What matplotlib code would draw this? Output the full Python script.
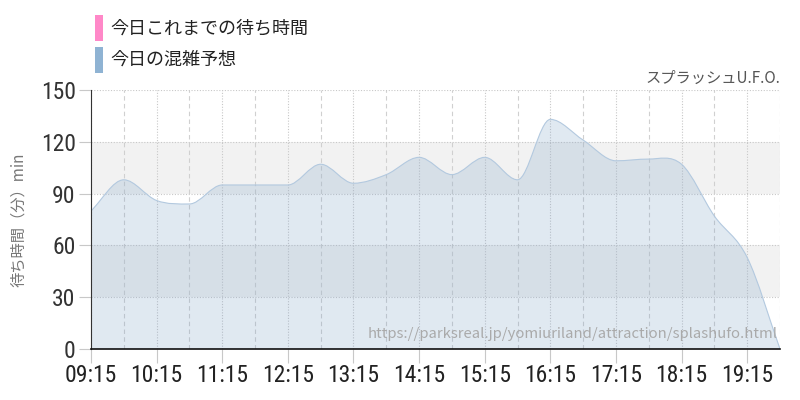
import numpy as np
import matplotlib
matplotlib.use("Agg")
import matplotlib.pyplot as plt
from matplotlib.path import Path
from matplotlib.patches import PathPatch, Rectangle
from matplotlib import font_manager

# data (30 min steps)
times = ["09:15", "09:45", "10:15", "10:45", "11:15", "11:45", "12:15", "12:45",
         "13:15", "13:45", "14:15", "14:45", "15:15", "15:45", "16:15", "16:45",
         "17:15", "17:45", "18:15", "18:45", "19:15", "19:45"]
forecast = [80, 98, 86, 84, 95, 95, 95, 107, 96, 101, 111, 101, 111, 98, 133, 121,
            109, 110, 107, 77, 53, 0]
tick_labels = ["09:15", "10:15", "11:15", "12:15", "13:15", "14:15", "15:15",
               "16:15", "17:15", "18:15", "19:15"]
legend_labels = ["今日これまでの待ち時間", "今日の混雑予想"]
legend_colors = ["#ff88c8", "#8fb3d3"]

CJK = ["Noto Sans CJK JP", "DejaVu Sans"]
installed = {f.name for f in font_manager.fontManager.ttflist}
NARROW = [f for f in ["Roboto Condensed", "Liberation Sans Narrow"] if f in installed] + ["DejaVu Sans"]

def to_h(s):
    h, m = s.split(":")
    return int(h) + int(m) / 60

x = np.array([to_h(t) for t in times])
y = np.array(forecast, dtype=float)

# smooth curve with cubic bezier segments (spline look)
n = len(x)
slopes = np.zeros(n)
for i in range(n):
    if i == 0:
        slopes[i] = (y[1] - y[0]) / (x[1] - x[0])
    elif i == n - 1:
        slopes[i] = (y[-1] - y[-2]) / (x[-1] - x[-2])
    else:
        if (y[i] - y[i-1]) * (y[i+1] - y[i]) <= 0:
            slopes[i] = 0
        else:
            slopes[i] = (y[i+1] - y[i-1]) / (x[i+1] - x[i-1])

verts = [(x[0], y[0])]
codes = [Path.MOVETO]
for i in range(n - 1):
    dx = (x[i+1] - x[i]) / 3
    verts += [(x[i] + dx, y[i] + slopes[i] * dx),
              (x[i+1] - dx, y[i+1] - slopes[i+1] * dx),
              (x[i+1], y[i+1])]
    codes += [Path.CURVE4] * 3

fig = plt.figure(figsize=(8, 4), dpi=100)
ax = fig.add_axes([0.11375, 0.1275, 0.86125, 0.6475])

ax.axhspan(30, 60, color="#f2f2f2", zorder=0, lw=0)
ax.axhspan(90, 120, color="#f2f2f2", zorder=0, lw=0)

fill_verts = [(x[0], 0)] + verts + [(x[-1], 0), (x[0], 0)]
fill_codes = [Path.MOVETO, Path.LINETO] + codes[1:] + [Path.LINETO, Path.CLOSEPOLY]
ax.add_patch(PathPatch(Path(fill_verts, fill_codes), facecolor="#7fa3c7", alpha=0.24,
                       edgecolor="none", zorder=2))
ax.add_patch(PathPatch(Path(verts, codes), facecolor="none", edgecolor="#b3c9df",
                       lw=0.8, zorder=3))

ax.set_xlim(x[0], x[-1])
ax.set_ylim(0, 150)
ax.set_yticks(range(0, 151, 30))
ax.set_xticks([to_h(t) for t in tick_labels])
ax.set_xticklabels(tick_labels)
ax.set_xticks(np.array([to_h(t) for t in tick_labels]) + 0.5, minor=True)

ax.grid(axis="y", color="#c8c8c8", ls=(0, (1, 1.5)), lw=0.8, zorder=1)
ax.grid(axis="x", which="major", color="#c8c8c8", ls=(0, (1, 1.5)), lw=0.8, zorder=1)
ax.grid(axis="x", which="minor", color="#d0d0d0", ls=(0, (4, 3)), lw=0.8, zorder=1)
ax.set_axisbelow(True)

for s in ["top", "right"]:
    ax.spines[s].set_visible(False)
ax.spines["left"].set_color("#333333")
ax.spines["bottom"].set_color("#111111")
ax.spines["bottom"].set_linewidth(1.2)
ax.spines["left"].set_zorder(4)
ax.spines["bottom"].set_zorder(4)

ax.tick_params(axis="y", length=9, color="#c8c8c8", pad=2, labelsize=17, labelcolor="#333333")
ax.tick_params(axis="x", which="major", length=10, color="#c8c8c8", pad=1, labelsize=17,
               labelcolor="#222222")
ax.tick_params(axis="x", which="minor", length=0)
for lab in ax.get_xticklabels() + ax.get_yticklabels():
    lab.set_family(NARROW)

ax.set_ylabel("待ち時間（分）min", family=CJK, fontsize=11, color="#777777", labelpad=10)

ax.text(0.997, 0.03, "https://parksreal.jp/yomiuriland/attraction/splashufo.html",
        transform=ax.transAxes, ha="right", va="bottom", fontsize=10.7, color="#aaaaaa",
        family=CJK, zorder=5)
fig.text(0.975, 0.805, "スプラッシュU.F.O.", ha="right", va="center", fontsize=11,
         color="#555555", family=CJK)

# legend
for i, (lab, col) in enumerate(zip(legend_labels, legend_colors)):
    yc = 1 - (28 + 32 * i) / 400
    fig.add_artist(Rectangle((95 / 800, yc - 13 / 400), 8 / 800, 26 / 400,
                             transform=fig.transFigure, color=col, lw=0))
    fig.text(110 / 800, yc, lab, ha="left", va="center", fontsize=13, color="#222222",
             family=CJK)

fig.savefig("out.png", dpi=100)
